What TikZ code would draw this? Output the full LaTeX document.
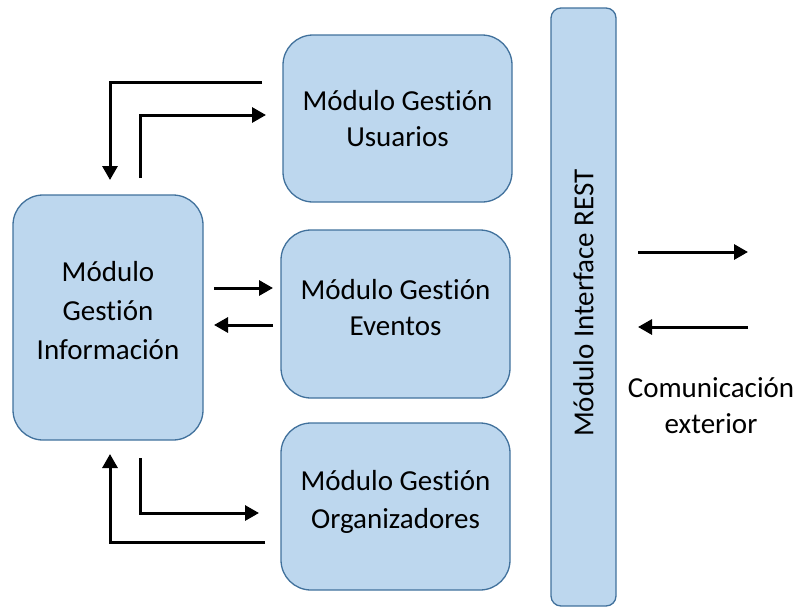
\documentclass[tikz,border=0pt]{standalone}
\usepackage{fontspec}
\setmainfont{Carlito}[Ligatures=NoCommon]
\usetikzlibrary{arrows.meta}
\definecolor{boxfill}{HTML}{BDD7EE}
\definecolor{boxline}{HTML}{41719C}
\begin{document}
\begin{tikzpicture}[x=1pt,y=-1pt,
  modbox/.style={draw=boxline,fill=boxfill,line width=1.3pt,rounded corners=30pt,inner sep=0pt},
  flow/.style={line width=3pt,-{Triangle[length=14pt,width=15pt]}},
  lbl/.style={align=center,inner sep=0pt,font=\fontsize{29}{38}\selectfont}]
\useasboundingbox (0,0) rectangle (802,608);

% module boxes
\node[modbox,minimum width=190pt,minimum height=245pt] (info) at (108,317.5) {};
\node[modbox,minimum width=229pt,minimum height=167pt] (usu) at (397.5,118.5) {};
\node[modbox,minimum width=229pt,minimum height=168pt] (eve) at (395.5,314) {};
\node[modbox,minimum width=229pt,minimum height=167pt] (org) at (395.5,506.5) {};
\node[modbox,rounded corners=10pt,minimum width=65pt,minimum height=598pt] (rest) at (583.5,307) {};

% module titles
\node[lbl] (infotxt) at (108,311) {Módulo\\[1pt]Gestión\\[1pt]Información};
\node[lbl] (usutxt) at (397.5,118.5) {Módulo Gestión\\[-2pt]Usuarios};
\node[lbl] (evetxt) at (395.5,308) {Módulo Gestión\\[-2pt]Eventos};
\node[lbl] (orgtxt) at (395.5,502) {Módulo Gestión\\Organizadores};
\node[lbl,rotate=90] (resttxt) at (583.5,303) {Módulo Interface REST};

% external side
\node[lbl,font=\fontsize{29}{36}\selectfont] (ext) at (711,406) {Comunicación\\exterior};

% connector end points
\coordinate (u1) at (262,82);  \coordinate (i1) at (110,180);
\coordinate (i2) at (140,178); \coordinate (u2) at (266,115);
\coordinate (i3) at (214,288); \coordinate (e3) at (273,288);
\coordinate (e4) at (273,325); \coordinate (i4) at (214,325);
\coordinate (i5) at (140,458); \coordinate (o5) at (259,513);
\coordinate (o6) at (265,542); \coordinate (i6) at (110,454);
\coordinate (x1) at (638,252); \coordinate (x2) at (748,252);
\coordinate (x3) at (748,327); \coordinate (x4) at (638,327);

% connectors
\draw[flow] (u1) -| (i1);
\draw[flow] (i2) |- (u2);
\draw[flow] (i3) -- (e3);
\draw[flow] (e4) -- (i4);
\draw[flow] (i5) |- (o5);
\draw[flow] (o6) -| (i6);
\draw[flow] (x1) -- (x2);
\draw[flow] (x3) -- (x4);
\end{tikzpicture}
\end{document}
